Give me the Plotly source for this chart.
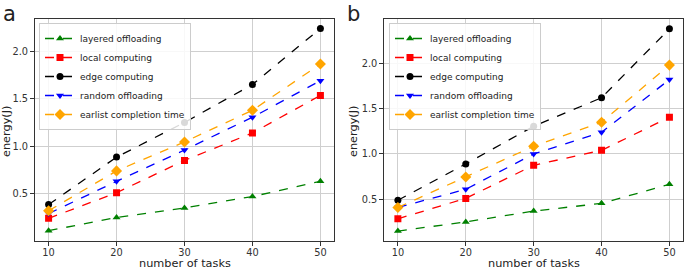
import plotly.graph_objects as go

tasks = [10, 20, 30, 40, 50]
tick_x = [10, 20, 30, 40, 50]
tick_y = [0.5, 1.0, 1.5, 2.0]

names = ["layered offloading", "local computing", "edge computing",
         "random offloading", "earlist completion time"]

# panel a
a_layered = [0.11, 0.25, 0.35, 0.47, 0.63]
a_local = [0.24, 0.51, 0.85, 1.14, 1.535]
a_edge = [0.385, 0.885, 1.25, 1.65, 2.24]
a_random = [0.29, 0.63, 0.96, 1.305, 1.69]
a_earliest = [0.32, 0.74, 1.045, 1.378, 1.865]

# panel b
b_layered = [0.15, 0.25, 0.37, 0.455, 0.665]
b_local = [0.285, 0.51, 0.875, 1.04, 1.405]
b_edge = [0.49, 0.89, 1.305, 1.62, 2.38]
b_random = [0.41, 0.61, 1.0, 1.24, 1.82]
b_earliest = [0.41, 0.745, 1.085, 1.35, 1.98]

colors = ["#008000", "#ff0000", "#000000", "#0000ff", "#ffa500"]
symbols = ["triangle-up", "square", "circle", "triangle-down", "diamond"]
msizes = [7, 7, 7, 7, 8.5]

FONT = "DejaVu Sans"
fig = go.Figure()

panels = [
    ([a_layered, a_local, a_edge, a_random, a_earliest], "x", "y", "legend"),
    ([b_layered, b_local, b_edge, b_random, b_earliest], "x2", "y2", "legend2"),
]
for series, xa, ya, leg in panels:
    for vals, name, c, s, ms in zip(series, names, colors, symbols, msizes):
        fig.add_trace(go.Scatter(
            x=tasks, y=vals, name=name, mode="lines+markers",
            line=dict(color=c, width=1.3, dash="dash"),
            marker=dict(color=c, symbol=s, size=ms, line=dict(width=0)),
            xaxis=xa, yaxis=ya, legend=leg))

W, H = 685, 269
ydom = [1 - 241 / H, 1 - 18.5 / H]
axis_common = dict(
    showline=True, mirror=True, linecolor="#333333", linewidth=1,
    ticks="outside", ticklen=4, tickcolor="#333333", tickwidth=1,
    showgrid=True, gridcolor="#cfcfcf", gridwidth=1, zeroline=False,
    tickfont=dict(family=FONT, size=9.8, color="#333333"),
    automargin=False,
)
xaxis_common = dict(axis_common, range=[8, 52], tickvals=tick_x,
                    ticklen=3.5, ticklabelstandoff=-1)
yaxis_common = dict(axis_common, tickvals=tick_y, tickformat=".1f")

legend_common = dict(
    xanchor="left", yanchor="top", bgcolor="rgba(255,255,255,0.85)",
    bordercolor="#cccccc", borderwidth=1,
    font=dict(family=FONT, size=9, color="#222222"),
    tracegroupgap=0, itemwidth=30,
)

title_font = dict(family=FONT, size=11.3, color="#222222")
xa_dom = [35 / W, 334 / W]
xb_dom = [384.3 / W, 683 / W]


def ann(text, x, y, size_font, angle=0, xanchor="center", yanchor="middle"):
    return dict(text=text, x=x, y=y, xref="paper", yref="paper",
                xanchor=xanchor, yanchor=yanchor, showarrow=False,
                textangle=angle, font=size_font)


letter_font = dict(family=FONT, size=21, color="#222222")
ycenter = 1 - 131 / H
fig.update_layout(
    width=W, height=H, margin=dict(l=0, r=0, t=0, b=0),
    paper_bgcolor="white", plot_bgcolor="white",
    font=dict(family=FONT),
    xaxis=dict(xaxis_common, domain=xa_dom, anchor="y"),
    yaxis=dict(yaxis_common, domain=ydom, range=[0.0015, 2.345], anchor="x"),
    xaxis2=dict(xaxis_common, domain=xb_dom, anchor="y2"),
    yaxis2=dict(yaxis_common, domain=ydom, range=[0.04, 2.494], anchor="x2"),
    legend=dict(legend_common, x=39 / W, y=1 - 23 / H),
    legend2=dict(legend_common, x=389 / W, y=1 - 23 / H),
    annotations=[
        ann("a", 1 / W, 1.0, letter_font, xanchor="left", yanchor="top"),
        ann("b", 345 / W, 1.0, letter_font, xanchor="left", yanchor="top"),
        ann("number of tasks", sum(xa_dom) / 2, 1 - 263.5 / H, title_font),
        ann("number of tasks", sum(xb_dom) / 2, 1 - 263.5 / H, title_font),
        ann("energy(J)", 6 / W, ycenter, title_font, angle=-90),
        ann("energy(J)", 353 / W, ycenter, title_font, angle=-90),
    ],
)

fig.write_html("out.html",
               config={"displayModeBar": False},
               post_script="document.body.style.margin='0';"
                           "document.body.style.overflow='hidden';")
